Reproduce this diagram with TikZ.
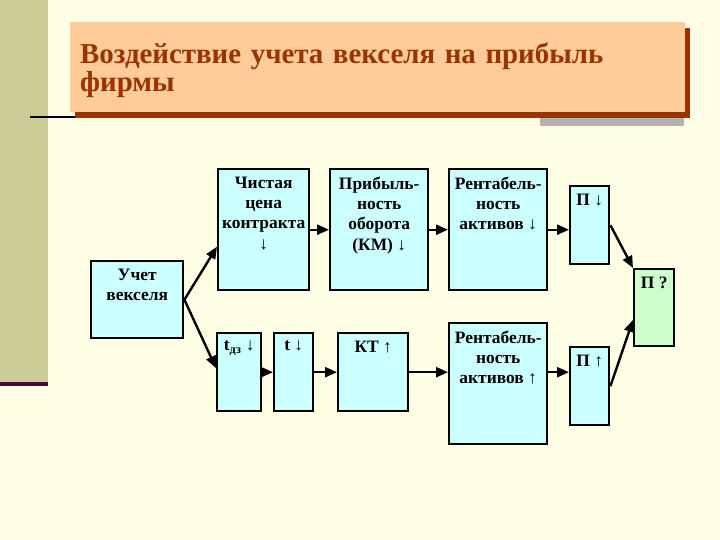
\documentclass[tikz,border=0pt]{standalone}
\usepackage{fontspec}
\setmainfont{Liberation Serif}
\usetikzlibrary{arrows.meta,shadows}

\definecolor{cream}{RGB}{255,255,229}
\definecolor{strip}{RGB}{204,204,153}
\definecolor{band}{RGB}{70,10,60}
\definecolor{peach}{RGB}{255,204,153}
\definecolor{titlebrown}{RGB}{153,51,0}
\definecolor{shadegray}{RGB}{178,178,178}
\definecolor{boxcyan}{RGB}{204,255,255}
\definecolor{boxgreen}{RGB}{204,255,204}

\tikzset{
  txt/.style={anchor=north, yshift=-6.5pt, align=center, inner sep=2pt,
    font=\bfseries\fontsize{17.5}{20.5}\selectfont},
  blk/.style={draw, line width=2.4bp, fill=boxcyan, anchor=north west,
    inner sep=0pt, label={[txt]north:#1}},
  link/.style={-{Triangle[length=12bp,width=10bp]}, line width=2.4bp},
  titlebox/.style={fill=peach, anchor=north west, align=left,
    text=titlebrown, inner xsep=10bp,
    font=\bfseries\fontsize{29}{28}\selectfont,
    drop shadow={shadow xshift=5bp, shadow yshift=-6bp, fill=titlebrown, opacity=1}}
}

\begin{document}
\begin{tikzpicture}[x=1bp, y=-1bp]
		% Background
		\useasboundingbox (0,0) rectangle (720,540);
		\fill[cream] (0,0) rectangle (720,540);
		\fill[strip] (0,0) rectangle (48,382);
		\fill[band] (0,382) rectangle (48,386);
		\fill[shadegray] (540,118) rectangle (684,126);
		\draw[line width=1.3bp, black!85!blue] (30,117) -- (76,117);
		% Title
		\node[titlebox, minimum width=615bp, minimum height=90bp, text width=595bp] (title) at (70,22)
			{\rule{0pt}{26pt}Воздействие учета векселя на прибыль\\фирмы};
		% Nodes
		\node[blk={Учет\\векселя}, minimum width=92bp, minimum height=77bp] (bill) at (90,260) {};
		\node[blk={Чистая\\цена\\контракта\\↓}, minimum width=91bp, minimum height=121bp] (net) at (217,168) {};
		\node[blk={Прибыль-\\ность\\оборота\\(КМ) ↓}, minimum width=98bp, minimum height=121bp] (prof) at (329,168) {};
		\node[blk={Рентабель-\\ность\\активов ↓}, minimum width=98bp, minimum height=121bp] (rentD) at (448,168) {};
		\node[blk={П ↓}, minimum width=39bp, minimum height=78bp] (pD) at (569,185) {};
		\node[blk={П ?}, fill=boxgreen, minimum width=40bp, minimum height=77bp] (pQ) at (633,268) {};
		\node[blk={t\textsubscript{дз} ↓}, minimum width=44bp, minimum height=78bp] (tdz) at (216,332) {};
		\node[blk={t ↓}, minimum width=39bp, minimum height=78bp] (t) at (273,332) {};
		\node[blk={КТ ↑}, minimum width=70bp, minimum height=78bp] (kt) at (337,332) {};
		\node[blk={Рентабель-\\ность\\активов ↑}, minimum width=98bp, minimum height=121bp] (rentU) at (448,322) {};
		\node[blk={П ↑}, minimum width=39bp, minimum height=78bp] (pU) at (569,346) {};
		% Arrows
		\draw[link] (bill.east) -- (net.200);
		\draw[link] (bill.east) -- (tdz.170);
		\draw[link] (net.east) -- (prof.west);
		\draw[link] (prof.east) -- (rentD.west);
		\draw[link] (rentD.east) -- (rentD.east -| pD.west);
		\draw[link] (tdz.east) -- (t.west);
		\draw[link] (t.east) -- (kt.west);
		\draw[link] (kt.east) -- (kt.east -| rentU.west);
		\draw[link] (rentU.east |- kt.east) -- (pU.west |- kt.east);
		\draw[link] (pD.east) -- (pQ.north west);
		\draw[link] (pU.east) -- (pQ.210);
\end{tikzpicture}
\end{document}
